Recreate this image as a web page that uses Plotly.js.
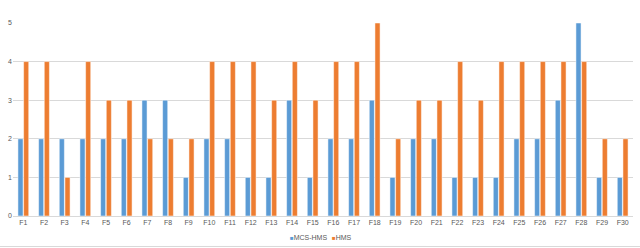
<!DOCTYPE html>
<html><head><meta charset="utf-8">
<script src="https://cdn.plot.ly/plotly-3.0.1.min.js"></script>
<style>html,body{margin:0;padding:0;background:#fff;}#chart{width:640px;height:248px;}</style>
</head><body><div id="chart"></div>
<script>
const categories = ["F1","F2","F3","F4","F5","F6","F7","F8","F9","F10","F11","F12","F13","F14","F15","F16","F17","F18","F19","F20","F21","F22","F23","F24","F25","F26","F27","F28","F29","F30"];
const mcsHms = [2,2,2,2,2,2,3,3,1,2,2,1,1,3,1,2,2,3,1,2,2,1,1,1,2,2,3,5,1,1];
const hms = [4,4,1,4,3,3,2,2,2,4,4,4,3,4,3,4,4,5,2,3,3,4,3,4,4,4,4,4,2,2];
const seriesNames = ["MCS-HMS","HMS"];
const seriesColors = ["#5B9BD5","#ED7D31"];
const yTicks = [0,1,2,3,4,5];

function legendName(i){
  return '<span style="color:' + seriesColors[i] + ';font-size:6px">■</span>' + seriesNames[i];
}
const traces = [
  {type:'bar', name:seriesNames[0], x:categories, y:mcsHms, showlegend:false, marker:{color:seriesColors[0], line:{color:'#ffffff', width:0.5}}},
  {type:'bar', name:seriesNames[1], x:categories, y:hms, showlegend:false, marker:{color:seriesColors[1], line:{color:'#ffffff', width:0.5}}},
  {type:'scatter', mode:'markers', name:legendName(0), legend:'legend', x:[null], y:[null], marker:{symbol:'square', size:1, color:'rgba(0,0,0,0)', line:{width:0}}},
  {type:'scatter', mode:'markers', name:legendName(1), legend:'legend2', x:[null], y:[null], marker:{symbol:'square', size:1, color:'rgba(0,0,0,0)', line:{width:0}}}
];
const legendBase = {orientation:'h', xanchor:'left', xref:'container', y:0.045, yanchor:'middle', yref:'container', font:{size:7, color:'#595959'}, itemwidth:30, bgcolor:'rgba(0,0,0,0)'};
const layout = {
  width:640, height:248,
  margin:{l:13, r:7, t:23, b:32},
  paper_bgcolor:'#fff', plot_bgcolor:'#fff',
  barmode:'group', bargap:0.45, bargroupgap:0.1,
  font:{family:'Liberation Sans, Arial, sans-serif', size:7, color:'#595959'},
  xaxis:{type:'category', tickfont:{size:7, color:'#595959'}, showline:true, linecolor:'#D9D9D9', linewidth:1, ticks:'', showgrid:false},
  yaxis:{range:[0,5], tickvals:yTicks, tickfont:{size:7, color:'#595959'}, gridcolor:'#D9D9D9', gridwidth:1, zeroline:false, showline:false, ticks:'', ticklen:0},
  showlegend:true,
  legend:Object.assign({}, legendBase, {x:(290-40)/640}),
  legend2:Object.assign({}, legendBase, {x:(332-40)/640}),
  shapes:[{type:'line', xref:'paper', yref:'paper', x0:-0.03, x1:1.02, y0:-0.158, y1:-0.158, line:{color:'#D9D9D9', width:1}}]
};
Plotly.newPlot('chart', traces, layout, {displayModeBar:false, staticPlot:true});
</script></body></html>
